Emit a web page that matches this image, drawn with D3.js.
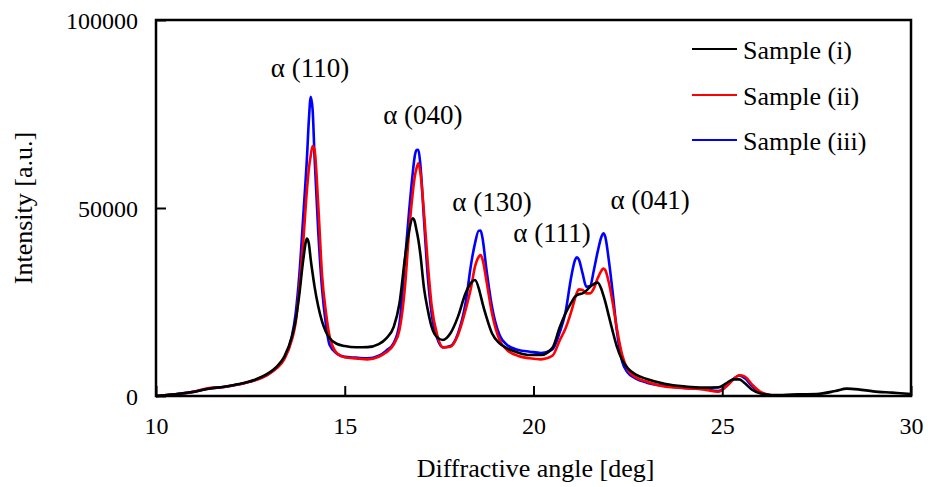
<!DOCTYPE html>
<html>
<head>
<meta charset="utf-8">
<script src="https://cdn.jsdelivr.net/npm/d3@7"></script>
<style>
  html, body { margin: 0; padding: 0; background: #fff; }
  svg { display: block; }
  text { font-family: "Liberation Serif", "Times New Roman", serif; fill: #000; }
</style>
</head>
<body>
<svg id="chart" width="928" height="487"></svg>
<script>
// Diffraction angle samples [deg]
const angles = [
  10.0, 10.5, 11.0, 11.4, 11.8, 12.2, 12.6, 13.0, 13.2, 13.4,
  13.6, 13.7, 13.8, 13.9, 14.0, 14.05, 14.1, 14.15, 14.2, 14.3,
  14.4, 14.5, 14.6, 14.8, 15.0, 15.3, 15.6, 15.9, 16.1, 16.3,
  16.45, 16.6, 16.7, 16.8, 16.85, 16.9, 16.95, 17.0, 17.1, 17.2,
  17.3, 17.45, 17.6, 17.8, 18.0, 18.2, 18.35, 18.45, 18.55, 18.6,
  18.65, 18.75, 18.9, 19.1, 19.3, 19.6, 19.9, 20.2, 20.5, 20.7,
  20.85, 21.0, 21.1, 21.15, 21.2, 21.3, 21.4, 21.5, 21.6, 21.7,
  21.8, 21.85, 21.9, 22.0, 22.1, 22.2, 22.35, 22.5, 22.7, 23.0,
  23.5, 24.0, 24.5, 24.9, 25.1, 25.3, 25.45, 25.6, 25.8, 26.0,
  26.3, 26.6, 27.0, 27.5, 28.0, 28.3, 28.6, 29.0, 29.5, 30.0
];

// Intensity [a.u.] for each sample
const sample1 = [
  0, 450, 1150, 1950, 2480, 3190, 4260, 6200, 7800, 10450,
  15800, 20200, 27300, 36200, 41900, 40500, 36200, 32500, 29100, 23750,
  19800, 17100, 15350, 13830, 13300, 12950, 13000, 13800, 15340, 18440,
  24650, 37060, 43700, 47250, 46500, 44150, 41500, 37950, 28640, 22870,
  18440, 15600, 14900, 16670, 21100, 27300, 30140, 30850, 28640, 26700,
  24650, 21100, 16670, 14000, 12680, 11520, 10900, 10900, 12800, 18440,
  21990, 24820, 26420, 26800, 27040, 27300, 28020, 29080, 29790, 30140,
  28370, 26800, 25090, 21100, 17110, 13390, 9570, 7360, 5760, 4520,
  3190, 2550, 2220, 2300, 3370, 4430, 4430, 3370, 1600, 710,
  270, 270, 440, 530, 1330, 1950, 1770, 1240, 890, 530
];
const sample2 = [
  0, 450, 1150, 2100, 2400, 3100, 4100, 5900, 7400, 9800,
  15000, 19500, 29000, 41000, 55000, 60500, 64000, 66500, 65500, 50350,
  32000, 22400, 15800, 11300, 10300, 10000, 9750, 10450, 11610, 13740,
  17550, 29520, 43260, 53900, 58000, 60550, 61900, 59660, 48580, 35280,
  24200, 16220, 12940, 13120, 16220, 22870, 29080, 34400, 37060, 37500,
  36350, 30850, 21990, 14890, 12230, 10640, 10020, 9750, 10700, 14890,
  18000, 22430, 25970, 27500, 28370, 28190, 27300, 27300, 28640, 31300,
  33330, 33900, 33510, 29970, 24650, 18440, 10900, 6920, 4970, 3810,
  2480, 2100, 1770, 1150, 2480, 4430, 5500, 5140, 2930, 1150,
  180, null, null, null, null, null, null, null, null, null
];
const sample3 = [
  0, 450, 1100, 2000, 2400, 3100, 4150, 6000, 7600, 10100,
  15800, 22000, 32600, 47700, 63600, 73500, 79600, 76000, 63600, 43300,
  28400, 19150, 13560, 11200, 10400, 10200, 10000, 10700, 12060, 14180,
  19330, 36620, 48580, 59220, 63500, 65430, 65500, 61880, 46810, 31740,
  21990, 15340, 12940, 13300, 16670, 24650, 35280, 40600, 43970, 44000,
  41940, 33950, 23760, 16220, 13560, 12230, 11790, 11450, 12400, 17110,
  22430, 31740, 36170, 36880, 36350, 32630, 29080, 29260, 33510, 38390,
  42380, 43260, 42380, 35730, 27300, 18000, 9130, 6210, 4700, 3550,
  2660, 2150, 1850, 1300, 2600, 4600, 5450, 4700, 2500, 900,
  100, null, null, null, null, null, null, null, null, null
];

const seriesNames = ["Sample (i)", "Sample (ii)", "Sample (iii)"];
const seriesColors = ["#000000", "#ff0000", "#0000ff"];

// Reflection labels: text and the angle / intensity they sit at
const peakLabels = ["\u03b1 (110)", "\u03b1 (040)", "\u03b1 (130)", "\u03b1 (111)", "\u03b1 (041)"];
const peakLabelAngles = [14.08, 17.07, 18.9, 20.49, 23.09];
const peakLabelLevels = [87200, 74700, 51600, 43300, 52100];

const xTicks = [10, 15, 20, 25, 30];
const yTicks = [0, 50000, 100000];

const svg = d3.select("#chart");
const W = 928, H = 487;
const m = { left: 156, right: 17, top: 20, bottom: 91 };

const x = d3.scaleLinear().domain([10, 30]).range([m.left, W - m.right]);
const y = d3.scaleLinear().domain([0, 100000]).range([H - m.bottom, m.top]);

svg.append("rect").attr("width", W).attr("height", H).attr("fill", "#fff");

// Curves: blue underneath, then red, black on top
const series = [sample1, sample2, sample3];
const line = d3.line()
  .defined(d => d[1] != null)
  .x(d => x(d[0]))
  .y(d => y(d[1]))
  .curve(d3.curveMonotoneX);

[2, 1, 0].forEach(i => {
  const pts = angles.map((a, k) => [a, series[i][k]]);
  svg.append("path")
    .datum(pts)
    .attr("d", line)
    .attr("fill", "none")
    .attr("stroke", seriesColors[i])
    .attr("stroke-width", 2.6)
    .attr("stroke-linejoin", "round");
});

// Axes with inward ticks
const xAxis = svg.append("g")
  .attr("transform", `translate(0,${y(0)})`)
  .call(d3.axisBottom(x).tickValues(xTicks).tickSize(-10).tickPadding(21).tickFormat(d3.format("d")));
const yAxis = svg.append("g")
  .attr("transform", `translate(${x(10)},0)`)
  .call(d3.axisLeft(y).tickValues(yTicks).tickSize(-10).tickPadding(18).tickFormat(d3.format("d")));

[xAxis, yAxis].forEach(g => {
  g.select(".domain").remove();
  g.selectAll(".tick line").attr("stroke", "#000").attr("stroke-width", 2);
  g.selectAll(".tick text")
    .attr("font-family", "Liberation Serif, serif")
    .attr("font-size", 24)
    .attr("fill", "#000");
});
yAxis.selectAll(".tick text").attr("dy", "0.34em");

// Plot frame
svg.append("rect")
  .attr("x", x(10)).attr("y", y(100000))
  .attr("width", x(30) - x(10)).attr("height", y(0) - y(100000))
  .attr("fill", "none").attr("stroke", "#000").attr("stroke-width", 2.5);

// Axis titles
svg.append("text")
  .attr("x", (x(10) + x(30)) / 2 + 2).attr("y", 468)
  .attr("text-anchor", "middle").attr("dominant-baseline", "central")
  .attr("font-size", 26)
  .text("Diffractive angle [deg]");

svg.append("text")
  .attr("transform", `translate(23,${(y(0) + y(100000)) / 2}) rotate(-90)`)
  .attr("text-anchor", "middle").attr("dominant-baseline", "central")
  .attr("font-size", 26)
  .text("Intensity [a.u.]");

// Reflection labels
peakLabels.forEach((t, i) => {
  svg.append("text")
    .attr("x", x(peakLabelAngles[i])).attr("y", y(peakLabelLevels[i]))
    .attr("text-anchor", "middle").attr("dominant-baseline", "central")
    .attr("font-size", 27)
    .text(t);
});

// Legend
const legendRows = [49, 95, 140];
seriesNames.forEach((name, i) => {
  svg.append("line")
    .attr("x1", 692).attr("x2", 737)
    .attr("y1", legendRows[i]).attr("y2", legendRows[i])
    .attr("stroke", seriesColors[i]).attr("stroke-width", 2);
  svg.append("text")
    .attr("x", 743).attr("y", legendRows[i] + 1)
    .attr("dominant-baseline", "central")
    .attr("font-size", 26)
    .text(name);
});
</script>
</body>
</html>
